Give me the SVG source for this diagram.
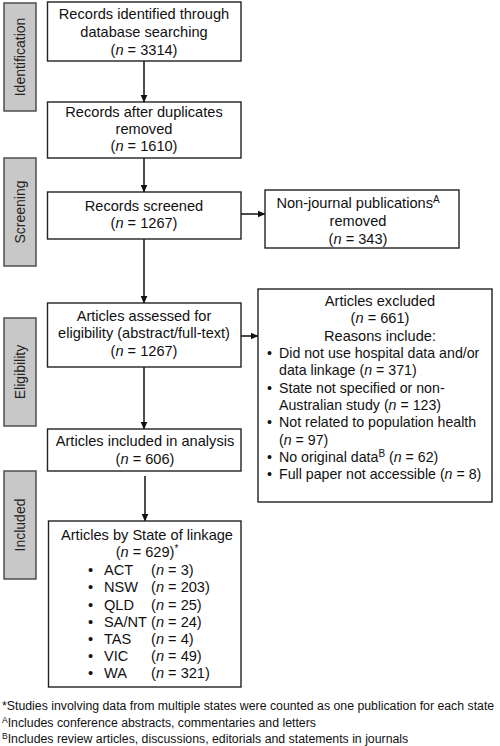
<svg xmlns="http://www.w3.org/2000/svg" width="500" height="746" viewBox="0 0 500 746">
<defs>
<marker id="ah" markerWidth="8" markerHeight="8" refX="7.5" refY="4" orient="auto" markerUnits="userSpaceOnUse">
<path d="M0,0.5 L8,4 L0,7.5 Z" fill="#111"/>
</marker>
<style>
text{font-family:"Liberation Sans",Arial,sans-serif;fill:#111}
.t{font-size:14.6px}
.b{font-size:14.2px}
.c{text-anchor:middle}
.box{fill:#fff;stroke:#222;stroke-width:1.4}
.side{fill:#c8c8c8;stroke:#444;stroke-width:1.4}
.sl{font-size:14px;text-anchor:middle;fill:#222}
.fn{font-size:12.3px}
.line{stroke:#111;stroke-width:1.5;fill:none}
.i{font-style:italic}
</style>
</defs>
<rect width="500" height="746" fill="#fff"/>

<g id="stage-identification">
<rect class="side" x="4" y="3" width="32" height="108"/>
<text class="sl" transform="translate(25,57) rotate(-90)">Identification</text>
</g>
<g id="stage-screening">
<rect class="side" x="4" y="158" width="32" height="108"/>
<text class="sl" transform="translate(25,212) rotate(-90)">Screening</text>
</g>
<g id="stage-eligibility">
<rect class="side" x="4" y="318" width="32" height="108"/>
<text class="sl" transform="translate(25,372) rotate(-90)">Eligibility</text>
</g>
<g id="stage-included">
<rect class="side" x="4" y="471" width="32" height="108"/>
<text class="sl" transform="translate(25,525) rotate(-90)">Included</text>
</g>

<g id="connectors">
<line class="line" x1="144" y1="61" x2="144" y2="102" marker-end="url(#ah)"/>
<line class="line" x1="144" y1="158" x2="144" y2="192" marker-end="url(#ah)"/>
<line class="line" x1="241" y1="214" x2="265" y2="214" marker-end="url(#ah)"/>
<line class="line" x1="144" y1="239" x2="144" y2="303" marker-end="url(#ah)"/>
<line class="line" x1="241" y1="336" x2="258" y2="336" marker-end="url(#ah)"/>
<line class="line" x1="144" y1="367" x2="144" y2="429" marker-end="url(#ah)"/>
<line class="line" x1="145" y1="476" x2="145" y2="521" marker-end="url(#ah)"/>
</g>

<g id="n1">
<rect class="box" x="47.5" y="2" width="193.5" height="59"/>
<text class="t c" x="144" y="19">Records identified through</text>
<text class="t c" x="144" y="37">database searching</text>
<text class="t c" x="144" y="55">(<tspan class="i">n</tspan> = 3314)</text>
</g>

<g id="n2">
<rect class="box" x="47.5" y="102" width="193.5" height="56"/>
<text class="t c" x="144" y="117">Records after duplicates</text>
<text class="t c" x="144" y="134">removed</text>
<text class="t c" x="144" y="151">(<tspan class="i">n</tspan> = 1610)</text>
</g>

<g id="n3">
<rect class="box" x="47.5" y="192" width="193.5" height="47"/>
<text class="t c" x="144" y="211">Records screened</text>
<text class="t c" x="144" y="228">(<tspan class="i">n</tspan> = 1267)</text>
</g>

<g id="n4">
<rect class="box" x="265" y="190" width="194" height="58"/>
<text class="t c" x="358" y="208">Non-journal publications<tspan font-size="10" dy="-5">A</tspan></text>
<text class="t c" x="358" y="226">removed</text>
<text class="t c" x="358" y="244">(<tspan class="i">n</tspan> = 343)</text>
</g>

<g id="n5">
<rect class="box" x="47.5" y="303" width="193.5" height="64"/>
<text class="t c" x="144" y="321">Articles assessed for</text>
<text class="t c" x="144" y="338">eligibility (abstract/full-text)</text>
<text class="t c" x="144" y="356">(<tspan class="i">n</tspan> = 1267)</text>
</g>

<g id="n6">
<rect class="box" x="258" y="289" width="234" height="213"/>
<text class="t c" x="380" y="306">Articles excluded</text>
<text class="t c" x="380" y="323">(<tspan class="i">n</tspan> = 661)</text>
<text class="t c" x="380" y="341">Reasons include:</text>
<text class="b" x="267" y="358">•</text>
<text class="b" x="279" y="358">Did not use hospital data and/or</text>
<text class="b" x="279" y="375">data linkage (<tspan class="i">n</tspan> = 371)</text>
<text class="b" x="267" y="393">•</text>
<text class="b" x="279" y="393">State not specified or non-</text>
<text class="b" x="279" y="410">Australian study (<tspan class="i">n</tspan> = 123)</text>
<text class="b" x="267" y="427">•</text>
<text class="b" x="279" y="427">Not related to population health</text>
<text class="b" x="279" y="445">(<tspan class="i">n</tspan> = 97)</text>
<text class="b" x="267" y="462">•</text>
<text class="b" x="279" y="462">No original data<tspan font-size="10" dy="-5">B</tspan><tspan dy="5"> (</tspan><tspan class="i">n</tspan> = 62)</text>
<text class="b" x="267" y="479">•</text>
<text class="b" x="279" y="479">Full paper not accessible (<tspan class="i">n</tspan> = 8)</text>
</g>

<g id="n7">
<rect class="box" x="47.5" y="429" width="193.5" height="42"/>
<text class="t c" x="145" y="446">Articles included in analysis</text>
<text class="t c" x="145" y="464">(<tspan class="i">n</tspan> = 606)</text>
</g>

<g id="n8">
<rect class="box" x="48.5" y="521" width="192.5" height="166"/>
<text class="t c" x="147" y="540">Articles by State of linkage</text>
<text class="t c" x="147" y="557">(<tspan class="i">n</tspan> = 629)<tspan font-size="10" dy="-5">*</tspan></text>
<text class="t" x="88" y="575">•</text><text class="t" x="104" y="575">ACT</text><text class="t" x="151" y="575">(<tspan class="i">n</tspan> = 3)</text>
<text class="t" x="88" y="592">•</text><text class="t" x="104" y="592">NSW</text><text class="t" x="151" y="592">(<tspan class="i">n</tspan> = 203)</text>
<text class="t" x="88" y="610">•</text><text class="t" x="104" y="610">QLD</text><text class="t" x="151" y="610">(<tspan class="i">n</tspan> = 25)</text>
<text class="t" x="88" y="627">•</text><text class="t" x="104" y="627">SA/NT</text><text class="t" x="151" y="627">(<tspan class="i">n</tspan> = 24)</text>
<text class="t" x="88" y="644">•</text><text class="t" x="104" y="644">TAS</text><text class="t" x="151" y="644">(<tspan class="i">n</tspan> = 4)</text>
<text class="t" x="88" y="661">•</text><text class="t" x="104" y="661">VIC</text><text class="t" x="151" y="661">(<tspan class="i">n</tspan> = 49)</text>
<text class="t" x="88" y="678">•</text><text class="t" x="104" y="678">WA</text><text class="t" x="151" y="678">(<tspan class="i">n</tspan> = 321)</text>
</g>

<g id="footnotes">
<text class="fn" x="2" y="710">*Studies involving data from multiple states were counted as one publication for each state</text>
<text class="fn" x="2" y="727"><tspan font-size="8.5" dy="-4">A</tspan><tspan dy="4">Includes conference abstracts, commentaries and letters</tspan></text>
<text class="fn" x="2" y="743"><tspan font-size="8.5" dy="-4">B</tspan><tspan dy="4">Includes review articles, discussions, editorials and statements in journals</tspan></text>
</g>
</svg>
